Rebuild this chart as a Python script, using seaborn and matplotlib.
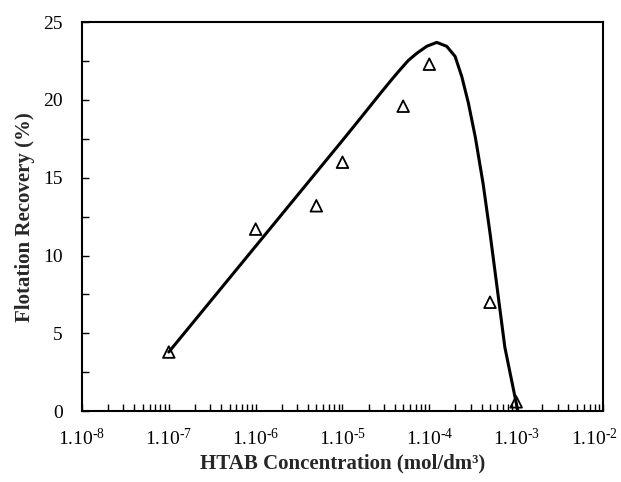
import numpy as np
import pandas as pd
import matplotlib
matplotlib.use("Agg")
import matplotlib.pyplot as plt
import matplotlib.transforms as mtransforms
import seaborn as sns

# measured points (HTAB concentration, mol/dm3 vs recovery %)
conc = [1e-7, 1e-6, 5e-6, 1e-5, 5e-5, 1e-4, 5e-4, 1e-3]
recovery = [3.8, 11.7, 13.2, 16.0, 19.6, 22.3, 7.0, 0.6]

# fitted curve (log10 of concentration, recovery %)
fit_logc = [-7.0, -6.0, -5.0, -4.797, -4.567, -4.42, -4.336, -4.24, -4.144,
            -4.03, -3.914, -3.80, -3.703, -3.626, -3.55, -3.47, -3.38,
            -3.30, -3.23, -3.13, -2.98]
fit_rec = [3.8, 10.6, 17.4, 18.8, 20.4, 21.4, 21.95, 22.55, 23.0,
           23.45, 23.7, 23.45, 22.8, 21.5, 19.8, 17.6, 14.6,
           11.4, 8.4, 4.1, 0.0]

decades = [-8, -7, -6, -5, -4, -3, -2]
tick_labels = ["1.10$^{\\text{-}%d}$" % abs(d) for d in decades]

sns.set_theme(style="ticks")
plt.rcParams["font.family"] = ["Liberation Serif", "DejaVu Serif"]
plt.rcParams["mathtext.fontset"] = "custom"
plt.rcParams["mathtext.rm"] = "Liberation Serif"
plt.rcParams["mathtext.it"] = "Liberation Serif:italic"
plt.rcParams["mathtext.bf"] = "Liberation Serif:bold"

df_pts = pd.DataFrame({"conc": conc, "rec": recovery})
df_fit = pd.DataFrame({"conc": [10 ** v for v in fit_logc], "rec": fit_rec})

fig = plt.figure(figsize=(6.21, 4.82), dpi=100)
ax = fig.add_axes([0.132, 0.147, 0.839, 0.807])

sns.lineplot(data=df_fit, x="conc", y="rec", ax=ax, color="black", lw=2.2,
             sort=False, estimator=None)
sns.scatterplot(data=df_pts, x="conc", y="rec", ax=ax, marker="^", s=70,
                facecolor="none", edgecolor="black", linewidth=1.3, zorder=3)

ax.set_xscale("log")
ax.set_xlim(1e-8, 1e-2)
ax.set_ylim(0, 25)
ax.set_xticks([10.0 ** d for d in decades])
ax.set_xticklabels(tick_labels)
ax.set_yticks([0, 5, 10, 15, 20, 25])
ax.set_yticks([2.5, 7.5, 12.5, 17.5, 22.5], minor=True)

ax.tick_params(axis="both", which="both", direction="in", length=5,
               width=1, labelsize=14, colors="black")
ax.tick_params(axis="x", which="major", pad=12)
ax.tick_params(axis="y", which="major", pad=14)

# last x label nudged left so it stays inside the figure
last = ax.get_xticklabels()[-1]
last.set_transform(last.get_transform() +
                   mtransforms.ScaledTranslation(-9 / 100, 0, fig.dpi_scale_trans))

for sp in ax.spines.values():
    sp.set_visible(True)
    sp.set_color("black")
    sp.set_linewidth(1.5)

ax.set_xlabel("HTAB Concentration (mol/dm³)", fontsize=15,
              fontweight="bold", labelpad=3)
ax.set_ylabel("Flotation Recovery (%)", fontsize=15, fontweight="bold",
              labelpad=6)

fig.savefig("out.png", dpi=100)
